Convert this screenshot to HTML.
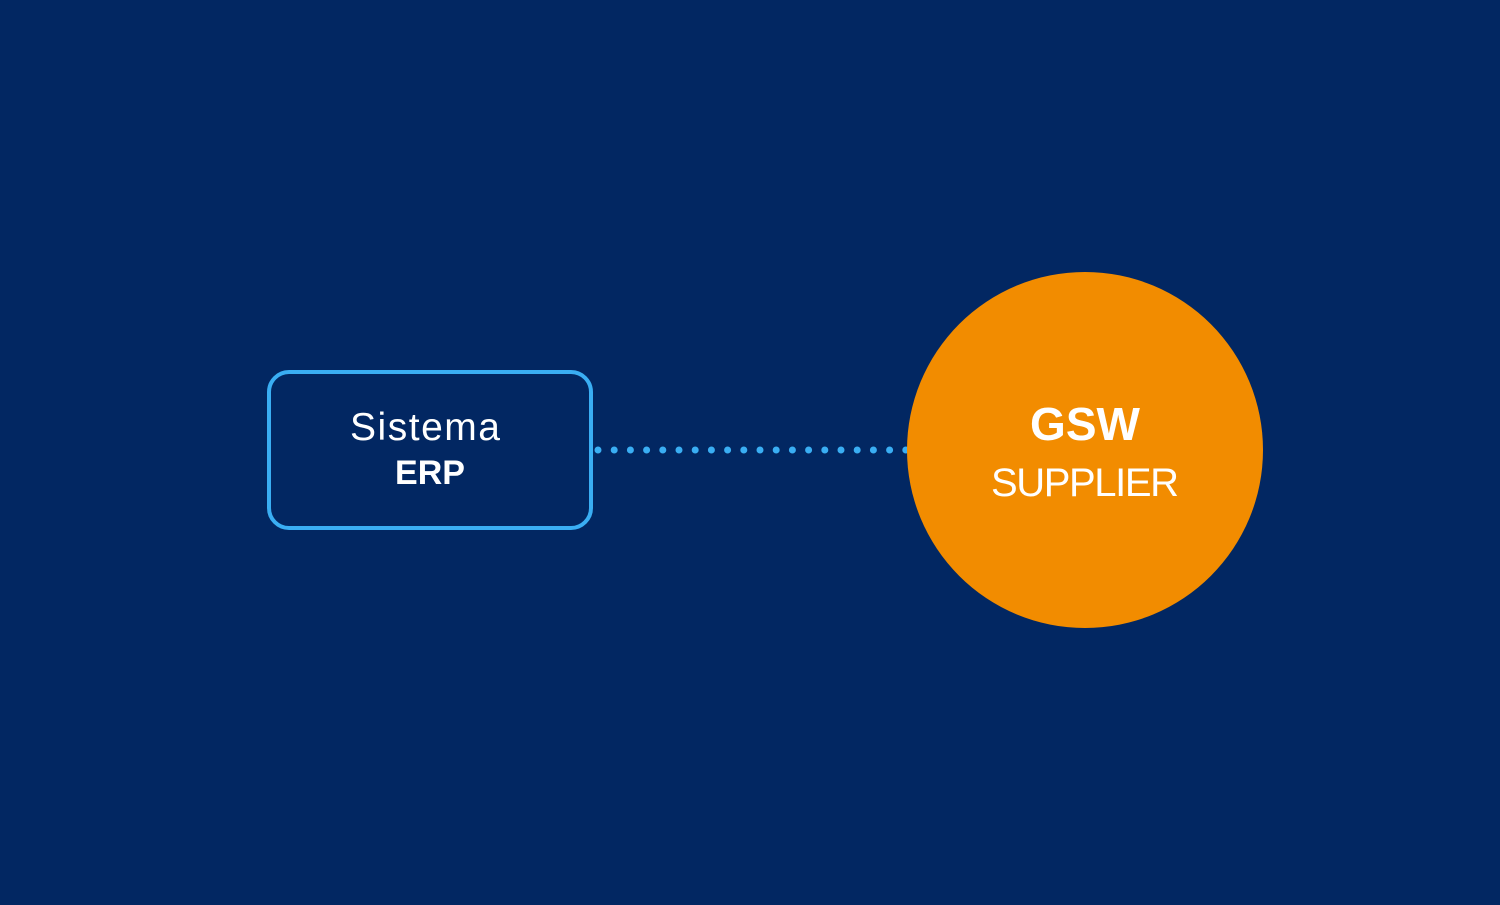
<!DOCTYPE html>
<html><head><style>
body{margin:0;width:1500px;height:900px;background:#022762;overflow:hidden;font-family:"Liberation Sans",sans-serif}
</style></head><body>
<svg width="1500" height="900" xmlns="http://www.w3.org/2000/svg">
<rect width="1500" height="900" fill="#022762"/>
<rect x="269" y="372" width="322" height="156" rx="20" fill="none" stroke="#3aaef3" stroke-width="4"/>
<text x="425" y="440" text-anchor="middle" fill="#fff" font-size="39" font-family="Liberation Sans" textLength="150">Sistema</text>
<text x="430" y="484" text-anchor="middle" fill="#fff" font-size="34" font-weight="bold" font-family="Liberation Sans">ERP</text>
<line x1="598" y1="450" x2="906" y2="450" stroke="#3aaef3" stroke-width="7" stroke-linecap="round" stroke-dasharray="0 16.2"/>
<circle cx="1085" cy="450" r="178" fill="#f28c00"/>
<text x="1085" y="440" text-anchor="middle" fill="#fff" font-size="46" font-weight="bold" font-family="Liberation Sans">GSW</text>
<text x="1085" y="496" text-anchor="middle" fill="#fff" font-size="40" font-family="Liberation Sans" textLength="188">SUPPLIER</text>
</svg>
</body></html>
